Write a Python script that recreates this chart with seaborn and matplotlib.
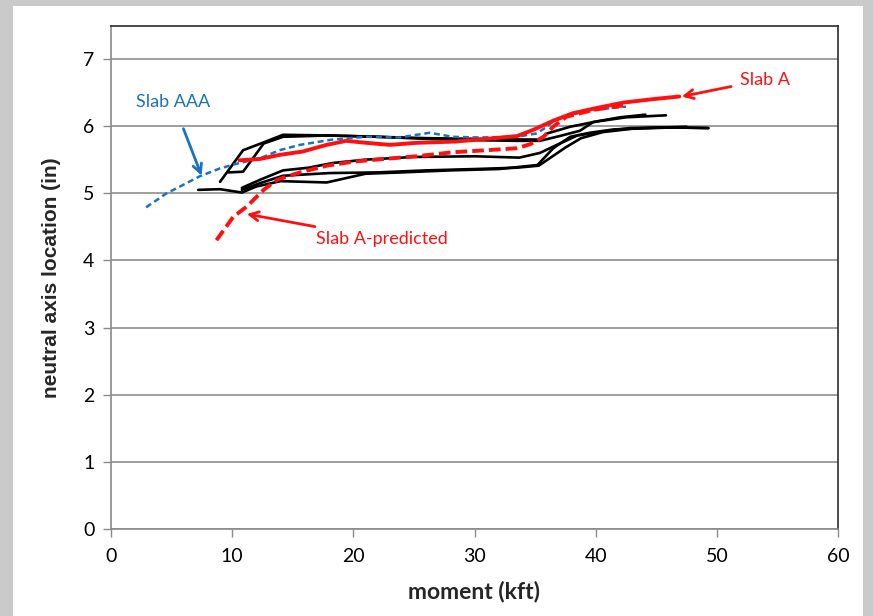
import numpy as np
import pandas as pd
import matplotlib
matplotlib.use("Agg")
import matplotlib.pyplot as plt
import seaborn as sns

# ---- measured series: moment (kft) vs neutral axis location (in) ----
# tested slabs (black)
k1_x = [9.0, 10.9, 12.5, 14.2, 18.0, 22.0, 26.0, 30.0, 33.7, 35.4, 36.0, 37.9, 40.1, 42.0, 44.1]
k1_y = [5.17, 5.64, 5.75, 5.87, 5.86, 5.84, 5.82, 5.81, 5.80, 5.80, 5.89, 5.99, 6.07, 6.13, 6.17]
k2_x = [9.7, 10.9, 12.6, 14.2, 18.0, 22.0, 26.0, 30.0, 33.5, 35.4, 37.0, 38.7, 39.8, 42.5, 45.8]
k2_y = [5.31, 5.32, 5.74, 5.84, 5.86, 5.84, 5.81, 5.79, 5.78, 5.78, 5.85, 5.93, 6.06, 6.13, 6.16]
k3_x = [7.2, 9.0, 10.8, 12.0, 14.0, 17.8, 21.0, 24.0, 28.0, 32.0, 35.2, 36.5, 37.9, 39.5, 41.5, 44.0, 47.5]
k3_y = [5.05, 5.06, 5.01, 5.10, 5.18, 5.16, 5.29, 5.31, 5.34, 5.36, 5.42, 5.67, 5.84, 5.90, 5.95, 5.97, 5.99]
k4_x = [10.8, 12.3, 14.2, 16.3, 18.3, 21.0, 25.0, 30.0, 33.7, 35.4, 36.8, 38.5, 40.6, 42.8, 46.0, 49.3]
k4_y = [5.08, 5.20, 5.34, 5.38, 5.45, 5.50, 5.54, 5.55, 5.53, 5.60, 5.72, 5.86, 5.92, 5.97, 5.98, 5.97]
k5_x = [10.8, 12.3, 14.2, 18.0, 22.0, 26.0, 30.0, 33.5, 35.3, 36.2, 37.5, 38.8, 40.6, 43.0, 46.5, 49.3]
k5_y = [5.05, 5.15, 5.26, 5.30, 5.31, 5.34, 5.36, 5.38, 5.41, 5.52, 5.68, 5.82, 5.91, 5.96, 5.98, 5.97]

# Slab A (red solid)
a_x = [10.6, 12.3, 13.9, 15.8, 17.8, 19.4, 21.1, 23.0, 25.2, 28.5, 30.4, 33.5, 34.8, 36.5, 38.1, 40.1, 42.3, 44.7, 46.9]
a_y = [5.49, 5.51, 5.57, 5.62, 5.72, 5.78, 5.75, 5.72, 5.75, 5.77, 5.80, 5.85, 5.94, 6.08, 6.19, 6.27, 6.35, 6.40, 6.44]

# Slab A-predicted (red dashed)
p_x = [8.7, 10.1, 11.2, 12.6, 13.7, 15.6, 17.8, 20.0, 22.5, 25.2, 28.2, 31.0, 33.5, 34.6, 35.7, 36.5, 37.6, 39.8, 42.0, 42.5]
p_y = [4.30, 4.65, 4.80, 5.05, 5.20, 5.31, 5.41, 5.47, 5.51, 5.55, 5.61, 5.64, 5.67, 5.73, 5.84, 5.99, 6.14, 6.24, 6.30, 6.31]

# Slab AAA (blue dotted)
b_x = [2.9, 4.6, 5.7, 7.3, 9.0, 10.6, 12.3, 13.9, 15.6, 18.3, 21.1, 23.8, 26.3, 28.2, 30.4, 33.5, 35.1, 35.9, 36.5, 37.3, 38.7, 40.3, 42.5]
b_y = [4.79, 5.00, 5.10, 5.25, 5.37, 5.45, 5.52, 5.64, 5.72, 5.80, 5.84, 5.83, 5.90, 5.84, 5.83, 5.84, 5.89, 5.98, 6.07, 6.13, 6.20, 6.25, 6.29]

x_ticks = [0, 10, 20, 30, 40, 50, 60]
y_ticks = [0, 1, 2, 3, 4, 5, 6, 7]

sns.set_theme(style="white")
plt.rcParams["font.family"] = ["Lato", "DejaVu Sans"]

fig = plt.figure(figsize=(8.73, 6.16), dpi=100)
fig.patch.set_facecolor("#cacaca")
# white chart panel
fig.add_artist(plt.Rectangle((13 / 873, 0), 850 / 873, 610 / 616,
                             transform=fig.transFigure, facecolor="white",
                             edgecolor="none", zorder=0))

ax = fig.add_axes([111 / 873, 87 / 616, 727 / 873, 503 / 616])
ax.set_facecolor("white")

black = [(k1_x, k1_y), (k2_x, k2_y), (k3_x, k3_y), (k4_x, k4_y), (k5_x, k5_y)]
for xs, ys in black:
    sns.lineplot(x=xs, y=ys, ax=ax, sort=False, estimator=None,
                 color="black", linewidth=1.9, zorder=3)

sns.lineplot(x=b_x, y=b_y, ax=ax, sort=False, estimator=None,
             color="#1a72c0", linewidth=1.8, linestyle=(0, (2.4, 1.5)), zorder=4)
sns.lineplot(x=a_x, y=a_y, ax=ax, sort=False, estimator=None,
             color="#ff1010", linewidth=2.8, zorder=5)
sns.lineplot(x=p_x, y=p_y, ax=ax, sort=False, estimator=None,
             color="#ff1010", linewidth=2.8, linestyle=(0, (3.0, 1.3)), zorder=5)

ax.set_xlim(0, 60)
ax.set_ylim(0, 7.49)
ax.set_xticks(x_ticks)
ax.set_yticks(y_ticks)
ax.tick_params(axis="both", which="major", labelsize=14, length=6, width=1,
               color="#8a8a8a", direction="out", pad=6, labelcolor="black")
ax.tick_params(axis="x", bottom=True, pad=8)
ax.tick_params(axis="y", left=True)
ax.yaxis.grid(True, color="#8e8e8e", linewidth=1.2)
ax.xaxis.grid(False)

for side in ["left", "bottom"]:
    ax.spines[side].set_color("#8a8a8a")
    ax.spines[side].set_linewidth(1.2)
for side in ["top", "right"]:
    ax.spines[side].set_color("#2b2b2b")
    ax.spines[side].set_linewidth(1.2)

ax.set_xlabel("moment (kft)", fontsize=16.5, fontweight="bold", labelpad=11)
ax.set_ylabel("neutral axis location (in)", fontsize=15, fontweight="bold",
              family="Liberation Sans", labelpad=16)

# callouts
ax.annotate("Slab AAA", xy=(7.48, 5.26), xytext=(2.06, 6.36),
            color="#1a72c0", fontsize=13, ha="left", va="center",
            arrowprops=dict(arrowstyle="->", color="#1a72c0", lw=2,
                            shrinkA=12, shrinkB=0, mutation_scale=16))
ax.annotate("Slab A-predicted", xy=(11.2, 4.69), xytext=(16.9, 4.32),
            color="#ff1010", fontsize=13, ha="left", va="center",
            arrowprops=dict(arrowstyle="->", color="#ff1010", lw=2,
                            shrinkA=4, shrinkB=0, mutation_scale=16))
ax.annotate("Slab A", xy=(47.1, 6.44), xytext=(51.9, 6.69),
            color="#ff1010", fontsize=13, ha="left", va="center",
            arrowprops=dict(arrowstyle="->", color="#ff1010", lw=2,
                            shrinkA=4, shrinkB=0, mutation_scale=16))

fig.savefig("out.png", dpi=100, facecolor=fig.get_facecolor())
